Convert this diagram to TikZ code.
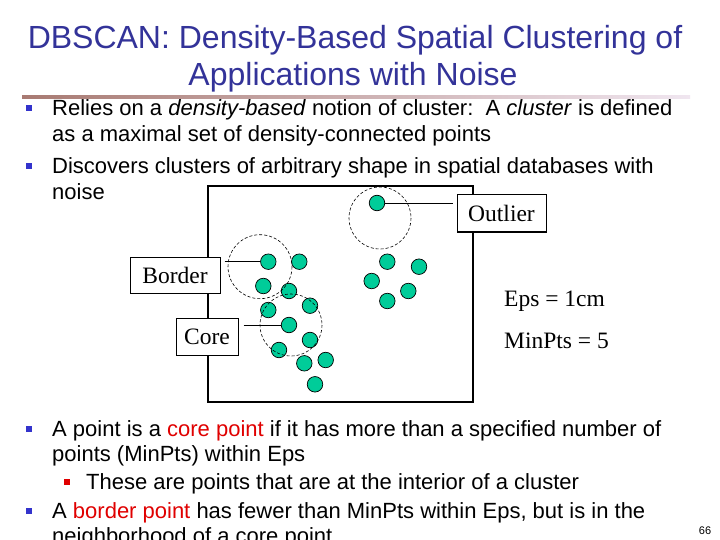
\documentclass[tikz,border=0pt]{standalone}
\usepackage{fontspec}
\setmainfont{Liberation Sans}
\newfontfamily\timesf{Liberation Serif}
\definecolor{titleblue}{HTML}{333399}
\definecolor{bulblue}{HTML}{3333CC}
\definecolor{redtxt}{HTML}{E00000}
\definecolor{ptgreen}{HTML}{00CC99}
\definecolor{lineleft}{HTML}{A87A72}
\definecolor{lineright}{HTML}{F0E6F0}
\begin{document}
\begin{tikzpicture}[x=1pt,y=-1pt,
  ttl/.style={anchor=base, inner sep=0pt, text=titleblue, font=\fontsize{32}{36}\selectfont},
  txt/.style={anchor=base west, inner sep=0pt, font=\fontsize{22}{26}\selectfont},
  bul/.style={fill=bulblue, minimum size=6.5pt, inner sep=0pt},
  subbul/.style={fill=redtxt, minimum size=6pt, inner sep=0pt},
  dot/.style={circle, draw=black, line width=0.7pt, fill=ptgreen, minimum size=15.5pt, inner sep=0pt},
  lbl/.style={draw, fill=white, line width=1pt, minimum height=37pt, inner sep=0pt, font=\timesf\fontsize{23.5}{28}\selectfont},
  epsc/.style={draw, line width=0.6pt, dash pattern=on 3pt off 2pt},
  conn/.style={draw, line width=0.8pt},
  serif/.style={anchor=base west, inner sep=0pt, font=\timesf\fontsize{23.5}{28}\selectfont}]
\useasboundingbox (0,0) rectangle (720,540);
\fill[white] (0,0) rectangle (720,540);
% title
\node[ttl] (t1) at (355,48.5) {DBSCAN: Density-Based Spatial Clustering of};
\node[ttl] (t2) at (353,85.5) {Applications with Noise};
\shade[left color=lineleft, right color=lineright] (22,95.5) rectangle (690,98.5);
% top bullets
\node[bul] (b1) at (29,108) {};
\node[txt] (l1) at (52,116) {Relies on a \textit{density-based} notion of cluster:\ \ A \textit{cluster} is defined};
\node[txt] (l2) at (52,142) {as a maximal set of density-connected points};
\node[bul] (b2) at (29,166) {};
\node[txt] (l3) at (52,174) {Discovers clusters of arbitrary shape in spatial databases with};
\node[txt] (l4) at (52,200) {noise};
% diagram frame
\draw[line width=1.2pt] (208,186) rectangle (473,402);
% points
\node[dot] (po) at (377,203) {};
\node[dot] (p1) at (268.3,261.7) {};
\node[dot] (p2) at (299.3,261.7) {};
\node[dot] (p3) at (263.3,286) {};
\node[dot] (p4) at (289,291) {};
\node[dot] (p5) at (268.3,310) {};
\node[dot] (p6) at (310,305.7) {};
\node[dot] (p7) at (289,325) {};
\node[dot] (p8) at (310,340) {};
\node[dot] (p9) at (279,350) {};
\node[dot] (p10) at (304.3,363.3) {};
\node[dot] (p11) at (325.7,360) {};
\node[dot] (p12) at (315,384.3) {};
\node[dot] (q1) at (387.3,261.7) {};
\node[dot] (q2) at (419,266.7) {};
\node[dot] (q3) at (371.7,281) {};
\node[dot] (q4) at (408.3,291) {};
\node[dot] (q5) at (387.3,301) {};
% eps circles
\draw[epsc] (380,218) circle[radius=31];
\draw[epsc] (260,266.7) circle[radius=32];
\draw[epsc] (291,325) circle[radius=31];
% label boxes
\node[lbl, minimum width=89pt] (outl) at (501.5,213.5) {Outlier};
\node[lbl, minimum width=90pt, minimum height=36pt] (bord) at (175,275) {Border};
\node[lbl, minimum width=62pt] (core) at (207,336.5) {Core};
% connectors
\draw[conn, shorten <=4pt] (outl.west |- po) -- (po);
\draw[conn, shorten <=4pt] (bord.east |- p1) -- (p1);
\draw[conn, shorten <=5pt] (core.east |- p7) -- (p7);
% parameters
\node[serif] (eps) at (504,306) {Eps = 1cm};
\node[serif] (mp) at (504,348) {MinPts = 5};
% bottom bullets
\node[bul] (b3) at (29,429) {};
\node[txt] (l5) at (52,436) {A point is a \textcolor{redtxt}{core point} if it has more than a specified number of};
\node[txt] (l6) at (52,461) {points (MinPts) within Eps};
\node[subbul] (b4) at (67,482) {};
\node[txt] (l7) at (86,489) {These are points that are at the interior of a cluster};
\node[bul] (b5) at (29,511) {};
\node[txt] (l8) at (52,518) {A \textcolor{redtxt}{border point} has fewer than MinPts within Eps, but is in the};
\node[txt] (l9) at (52,543) {neighborhood of a core point};
\node[anchor=base, inner sep=0pt, font=\fontsize{11}{12}\selectfont] (pg) at (705,534) {66};
\end{tikzpicture}
\end{document}
